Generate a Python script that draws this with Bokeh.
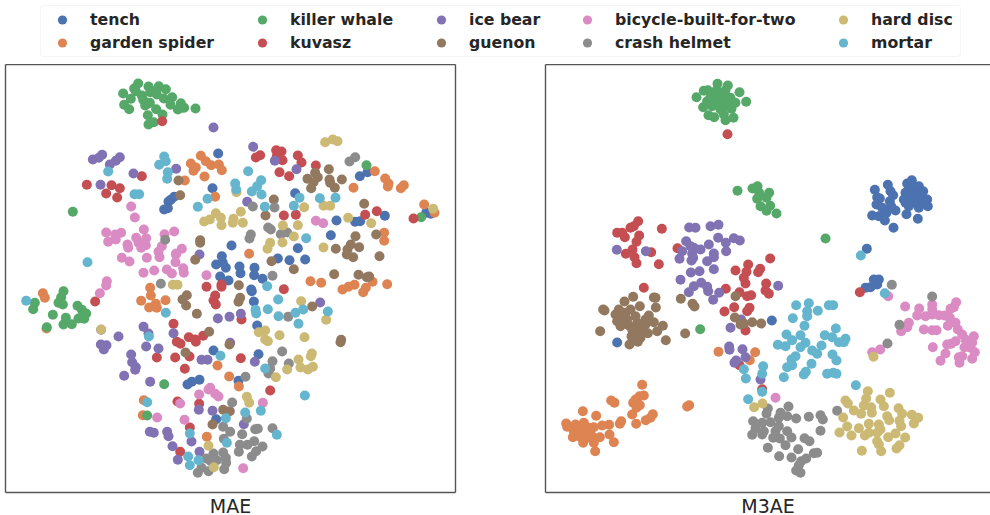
from bokeh.plotting import figure
from bokeh.models import Range1d, LinearAxis, FixedTicker, Legend, LegendItem, Title, BoxAnnotation
from bokeh.layouts import column, row
from bokeh.embed import file_html
from bokeh.resources import INLINE

class_names = ["tench", "garden spider", "killer whale", "kuvasz", "ice bear", "guenon",
               "bicycle-built-for-two", "crash helmet", "hard disc", "mortar"]
class_colors = ["#4C72B0", "#DD8452", "#55A868", "#C44E52", "#8172B3", "#937860",
                "#DA8BC3", "#8C8C8C", "#CCB974", "#64B5CD"]

# Values. "upper" values are on the scale of the upper half, "lower" ones
# are measured from the middle of the embedding (LOWER_SHIFT below).
LOWER_SHIFT = 765

mae_tench_upper = [(654,462),(637,566),(1079,530),(1102,518),(885,581),(522,592),(512,601),(505,606),(503,626),(492,630),(1009,663),(1065,667),(1080,665),(1154,649),(1278,640),(1292,643),(992,707),(694,738),(893,746)]
mae_tench_lower = [(665,5),(648,30),(668,25),(677,40),(718,36),(721,56),(763,40),(762,62),(660,66),(685,78),(787,73),(753,105),(755,110),(761,141),(833,12),(868,17),(915,15),(771,213),(640,288),(775,299),(598,376),(575,382),(562,390),(715,379),(648,494)]
mae_spider_upper = [(602,469),(617,485),(633,497),(656,495),(665,512),(572,492),(587,504),(580,514),(613,531),(554,543),(645,592),(1124,515),(1155,537),(1165,552),(1163,561),(1060,565),(1211,557),(1202,566),(1272,615),(1303,640),(747,763),(1152,700),(1152,724)]
mae_spider_lower = [(931,80),(963,85),(1027,105),(1045,97),(1063,91),(1097,100),(1089,113),(1117,82),(1161,89),(450,100),(452,123),(423,139),(496,137),(447,159),(467,148),(470,160),(128,116),(134,130),(139,222),(652,333),(687,366),(716,396),(431,437),(428,482),(620,547)]
mae_whale_upper = [(369,282),(402,267),(414,252),(445,261),(476,260),(497,269),(450,278),(470,285),(425,288),(392,298),(429,301),(491,297),(516,293),(449,310),(435,318),(372,316),(387,329),(511,316),(542,311),(468,329),(533,330),(552,325),(586,327),(443,347),(487,345),(461,368),(445,375),(407,275),(468,272),(440,314),(545,325),(218,637),(1099,497),(1263,653)]
mae_whale_lower = [(104,145),(99,164),(190,110),(183,128),(175,145),(188,150),(232,154),(245,166),(258,177),(252,193),(235,192),(158,181),(197,190),(190,210),(215,209),(140,218),(441,483),(492,389),(250,180)]
mae_kuvasz_upper = [(486,365),(828,452),(844,456),(830,470),(847,482),(780,467),(767,474),(893,468),(904,489),(947,498),(838,518),(867,530),(425,530),(260,556),(334,557),(359,566),(318,582),(351,594),(851,648),(887,646),(1095,646),(1130,635),(1240,657)]
mae_kuvasz_lower = [(285,141),(851,104),(619,97),(664,90),(664,97),(645,123),(640,138),(647,150),(520,208),(566,248),(585,255),(587,262),(609,244),(530,262),(541,268),(470,309),(525,309),(568,306),(554,343),(722,311),(724,195),(810,408),(532,441),(597,448),(569,519),(540,592)]
mae_bear_upper = [(640,384),(278,480),(296,475),(306,466),(329,495),(347,484),(359,473),(400,522),(301,556),(528,508),(759,442),(824,484),(889,509),(741,607)]
mae_bear_lower = [(598,0),(960,144),(722,178),(688,187),(653,192),(430,217),(303,226),(445,237),(520,236),(355,246),(302,270),(319,272),(311,285),(438,276),(475,282),(393,300),(396,323),(407,338),(405,346),(372,364),(450,382),(690,265),(604,316),(622,316),(764,322),(596,466),(637,469),(731,509),(449,532),(461,535),(501,532),(505,545),(574,561),(517,575),(598,592),(533,616)]
mae_guenon_upper = [(535,543),(540,587),(821,600),(796,648),(986,509),(945,520),(922,538),(953,533),(940,548),(933,566),(988,540),(990,550),(1004,565),(1025,540),(1092,613),(600,722),(600,730),(1128,705),(1066,710),(1052,735),(1042,750),(1077,743),(1007,748)]
mae_guenon_lower = [(585,16),(814,20),(881,44),(1002,59),(1075,61),(1100,68),(1107,66),(1059,8),(1040,0),(1138,5),(716,92),(560,122),(547,135),(558,153),(720,130),(715,142),(590,178),(936,156),(1023,256),(1021,263),(627,232),(688,270),(556,294),(669,466),(689,470),(637,510)]
mae_bicycle_upper = [(393,621),(404,654),(318,699),(345,705),(363,700),(347,720),(324,727),(431,690),(493,704),(522,696),(408,715),(438,716),(382,735),(384,745),(415,730),(437,737),(423,745),(485,740),(475,757),(545,748),(528,762),(947,664),(969,671)]
mae_bicycle_lower = [(365,10),(388,21),(440,10),(478,8),(527,0),(526,23),(430,55),(462,48),(500,45),(515,57),(549,41),(551,55),(619,62),(320,80),(318,93),(299,116),(630,400),(625,405),(645,418),(655,426),(597,420),(540,447),(788,445),(471,489),(553,496),(729,641)]
mae_helmet_upper = [(1065,473),(1048,486),(495,721),(758,621),(823,624),(804,684),(812,690),(842,704),(861,699),(752,705),(748,717)]
mae_helmet_lower = [(817,64),(482,88),(864,187),(846,291),(817,320),(866,327),(810,342),(805,357),(736,367),(696,444),(740,492),(669,517),(690,532),(765,524),(773,523),(817,521),(726,539),(671,553),(762,560),(719,571),(742,571),(787,576),(768,590),(716,592),(755,606),(618,612),(640,597),(669,594),(650,617),(677,610),(678,625),(604,640),(672,644),(593,655),(625,650),(632,620)]
mae_disc_upper = [(975,428),(998,420),(1012,425),(709,578),(970,619),(990,619),(912,623),(647,641),(722,637),(612,666),(629,660),(662,655),(664,677),(700,658),(698,670),(728,670),(848,678),(893,677),(1044,655),(1113,671),(1299,628),(881,711),(847,729),(810,730),(802,748),(970,744)]
mae_disc_lower = [(518,91),(532,91),(903,140),(978,196),(303,225),(776,233),(795,228),(838,242),(795,255),(803,260),(913,248),(935,297),(932,305),(895,315),(901,339),(923,345),(938,337),(861,345),(827,368),(740,427),(747,445),(625,574),(641,638)]
mae_mortar_upper = [(492,471),(497,485),(477,496),(324,516),(503,518),(501,538),(744,515),(705,552),(708,570),(783,542),(771,560),(755,576),(784,585),(622,598),(593,622),(403,584),(417,584),(898,595),(959,596),(1006,595),(794,622),(881,619),(918,716)]
mae_mortar_lower = [(262,23),(78,139),(801,95),(834,135),(766,166),(768,177),(803,164),(835,185),(886,175),(909,165),(983,171),(895,208),(497,175),(446,246),(661,304),(795,342),(914,423),(441,443),(782,469),(735,474),(677,491),(569,537),(830,541),(680,565),(564,606),(595,617),(569,632)]

m3ae_tench_upper = [(1144,542),(1130,552),(1072,556),(1033,571),(1165,560),(1178,575),(1080,575),(1088,587),(1040,593),(1048,597),(1125,580),(1140,570),(1155,575),(1120,600),(1135,590),(1150,590),(1165,590),(1190,600),(1192,620),(1078,605),(1038,615),(1055,625),(1082,620),(1095,633),(1125,610),(1145,610),(1165,625),(1172,610),(1068,640),(1025,648),(1045,650),(1063,663),(1128,644),(1162,658),(1089,685),(1009,748),(1150,605),(1135,620),(1130,575),(1150,560),(1175,590),(1180,610)]
m3ae_tench_lower = [(1030,75),(1045,75),(1040,90),(1005,100),(1020,98),(724,198),(260,264)]
m3ae_spider_upper = []
m3ae_spider_lower = [(335,391),(340,423),(327,425),(315,435),(308,445),(328,452),(318,460),(305,480),(242,438),(252,445),(476,452),(470,456),(157,470),(197,484),(367,479),(360,490),(346,497),(317,508),(272,500),(268,508),(107,507),(110,517),(135,510),(160,505),(236,511),(215,513),(190,518),(150,525),(130,530),(170,535),(127,548),(145,545),(165,550),(185,545),(208,548),(237,540),(158,565),(190,565),(250,563),(194,590),(150,540),(175,520),(564,292),(674,293),(658,317),(140,530),(160,535),(178,550)]
m3ae_whale_upper = [(561,253),(592,258),(627,278),(520,274),(532,272),(498,293),(647,307),(518,323),(534,347),(551,353),(585,362),(609,355),(558,272),(585,272),(552,295),(575,295),(600,295),(530,305),(545,310),(565,315),(590,318),(615,310),(603,328),(570,330),(545,320),(580,345),(575,305),(540,295),(560,285),(621,574),(666,567),(681,560),(686,580),(716,580),(680,598),(708,595),(690,620),(719,619),(708,634),(738,642),(885,717)]
m3ae_whale_lower = [(509,224)]
m3ae_kuvasz_upper = [(591,404),(323,665),(260,700),(275,700),(300,685),(310,680),(326,708),(283,713),(318,727),(394,688),(441,746),(306,750),(286,763),(362,758)]
m3ae_kuvasz_lower = [(312,8),(318,26),(385,29),(719,12),(340,100),(653,30),(615,48),(648,52),(689,43),(683,53),(640,70),(645,87),(707,87),(586,103),(705,108),(715,118),(627,113),(650,125),(662,122),(611,158),(582,171),(657,160),(650,170),(645,228),(627,332),(695,404),(988,113)]
m3ae_bear_upper = [(259,751),(346,755),(476,684),(495,685),(540,680),(564,676),(467,725),(480,740),(563,715),(610,716),(628,723),(586,730),(535,735),(490,745),(510,750),(455,755),(587,755),(550,762),(485,762)]
m3ae_bear_lower = [(447,13),(483,18),(530,20),(550,8),(481,54),(507,50),(550,44),(450,76),(512,85),(490,95),(530,97),(475,113),(533,110),(566,115),(548,136),(743,94),(600,220),(632,195),(596,276),(597,286),(636,284),(645,308),(617,318),(612,325),(690,375),(488,10)]
m3ae_guenon_upper = []
m3ae_guenon_lower = [(282,141),(308,127),(370,129),(375,130),(218,165),(222,168),(328,155),(376,159),(265,165),(255,180),(285,175),(300,165),(315,185),(355,183),(265,190),(290,195),(260,200),(270,215),(295,213),(320,205),(345,210),(370,203),(397,214),(380,230),(352,236),(330,225),(305,225),(209,230),(303,245),(330,250),(322,262),(297,270),(406,257),(464,237),(451,133),(486,148),(492,156),(615,125),(613,189),(640,207),(630,210),(665,203),(692,207),(275,175),(275,200),(335,215),(325,240),(345,195)]
m3ae_bicycle_upper = []
m3ae_bicycle_lower = [(1073,125),(1124,156),(1205,150),(1277,143),(1270,158),(1260,163),(1166,162),(1205,165),(1160,183),(1185,185),(1205,180),(1225,182),(1242,183),(1258,190),(1275,205),(1135,205),(1130,218),(1112,230),(1180,225),(1205,227),(1218,227),(1252,214),(1282,225),(1295,240),(1305,255),(1330,245),(1325,265),(1275,260),(1262,268),(1250,270),(1302,278),(1320,280),(1207,278),(1245,297),(1333,293),(1285,308),(1295,305),(1325,313),(1230,319),(1287,325),(1025,293),(1049,285),(735,430)]
m3ae_helmet_upper = []
m3ae_helmet_lower = [(1205,126),(1084,91),(1107,211),(1071,267),(774,456),(712,462),(708,478),(750,475),(745,490),(770,485),(797,492),(835,487),(870,482),(877,495),(920,469),(668,500),(695,505),(720,503),(675,522),(700,530),(745,515),(770,530),(870,529),(665,541),(695,540),(728,550),(748,552),(783,549),(822,551),(837,560),(765,572),(712,580),(803,584),(746,605),(783,609),(812,620),(827,612),(850,596),(860,595),(805,632),(797,648),(810,655),(735,530)]
m3ae_disc_upper = []
m3ae_disc_lower = [(1029,307),(1012,410),(1007,432),(1078,415),(945,438),(952,447),(1050,435),(1000,453),(1022,458),(970,468),(992,478),(1024,475),(1060,455),(1104,461),(1115,478),(1144,481),(1163,490),(1150,507),(696,447),(671,458),(938,489),(1070,485),(1076,497),(1107,499),(950,516),(985,521),(1015,508),(1045,510),(1112,515),(927,534),(963,543),(1003,543),(1015,535),(1050,525),(1040,535),(1095,537),(1073,548),(1124,549),(1040,560),(1045,570),(1107,572),(1098,582),(994,589),(1052,590)]
m3ae_mortar_upper = []
m3ae_mortar_lower = [(991,3),(1063,116),(797,152),(835,146),(895,152),(908,152),(862,169),(830,170),(830,185),(787,191),(822,214),(916,222),(768,240),(810,242),(883,242),(905,248),(945,253),(785,257),(825,265),(925,263),(940,263),(742,271),(765,275),(810,278),(873,273),(845,288),(860,298),(795,305),(906,300),(783,315),(918,318),(843,328),(785,332),(770,338),(698,335),(640,344),(695,358),(826,352),(820,360),(890,358),(908,355),(918,358),(760,368),(646,372),(695,412),(653,434),(976,392)]

mae_upper = [mae_tench_upper, mae_spider_upper, mae_whale_upper, mae_kuvasz_upper, mae_bear_upper, mae_guenon_upper, mae_bicycle_upper, mae_helmet_upper, mae_disc_upper, mae_mortar_upper]
mae_lower = [mae_tench_lower, mae_spider_lower, mae_whale_lower, mae_kuvasz_lower, mae_bear_lower, mae_guenon_lower, mae_bicycle_lower, mae_helmet_lower, mae_disc_lower, mae_mortar_lower]
m3ae_upper = [m3ae_tench_upper, m3ae_spider_upper, m3ae_whale_upper, m3ae_kuvasz_upper, m3ae_bear_upper, m3ae_guenon_upper, m3ae_bicycle_upper, m3ae_helmet_upper, m3ae_disc_upper, m3ae_mortar_upper]
m3ae_lower = [m3ae_tench_lower, m3ae_spider_lower, m3ae_whale_lower, m3ae_kuvasz_lower, m3ae_bear_lower, m3ae_guenon_lower, m3ae_bicycle_lower, m3ae_helmet_lower, m3ae_disc_lower, m3ae_mortar_lower]

FRAME = "#555555"
TEXT = "#262626"
FONT = "DejaVu Sans"


def panel(name, width, border_left, border_right, x_range, offset, uppers, lowers, right_edge):
    p = figure(width=width, height=451, frame_height=428, output_backend="svg", toolbar_location=None,
               x_range=Range1d(*x_range), y_range=Range1d(1479, 195),
               min_border_left=border_left, min_border_right=border_right,
               min_border_top=0, min_border_bottom=0,
               x_axis_type=None, y_axis_type=None, outline_line_color=None,
               background_fill_color="white", border_fill_color="white")
    p.grid.visible = False
    sides = ["left", "below", "above"] + (["right"] if right_edge else [])
    for side in sides:
        ax = LinearAxis(ticker=FixedTicker(ticks=[]), axis_line_color=FRAME, axis_line_width=1.4,
                        major_tick_line_color=None, minor_tick_line_color=None,
                        major_label_text_font_size="0px")
        p.add_layout(ax, side)
    for up, low, color in zip(uppers, lowers, class_colors):
        xs = [a for a, _ in up] + [a for a, _ in low]
        ys = [b for _, b in up] + [b + LOWER_SHIFT for _, b in low]
        p.scatter(xs, ys, size=10, fill_color=color, line_color=None)
    p.add_layout(Title(text=name, align="center", text_font=FONT, text_font_size="19px",
                       text_font_style="normal", text_color=TEXT, standoff=0, offset=offset,
                       text_line_height=0.9), "below")
    return p


fig_a = panel("MAE", 540, 5, 85, (16, 1366), 0, mae_upper, mae_lower, True)
fig_b = panel("M3AE", 450, 5, 0, (45, 1380), 2.5, m3ae_upper, m3ae_lower, False)

head = figure(width=990, height=64, output_backend="svg", toolbar_location=None,
              x_range=Range1d(0, 990), y_range=Range1d(64, 0), x_axis_type=None, y_axis_type=None,
              outline_line_color=None, min_border=0)
head.grid.visible = False
head.add_layout(BoxAnnotation(left=40, right=960, top=5, bottom=56, fill_color="white", fill_alpha=1,
                              line_color="#dddddd", line_width=1, border_radius=3))
legend_left = [43, 243, 422, 568, 824]
for col, left in enumerate(legend_left):
    items = []
    for k in (2 * col, 2 * col + 1):
        r = head.scatter([float("nan")], [float("nan")], size=9, fill_color=class_colors[k], line_color=None)
        items.append(LegendItem(label=class_names[k], renderers=[r], index=0))
    head.add_layout(Legend(items=items, location=(left, 10), margin=0, padding=3, spacing=0,
                           glyph_width=38, glyph_height=23, label_standoff=9, label_height=23,
                           label_text_font=FONT, label_text_font_size="15.75px",
                           label_text_font_style="bold", label_text_color=TEXT,
                           border_line_color=None, background_fill_alpha=0), "center")

page = column(head, row(fig_a, fig_b, spacing=0), spacing=0,
              styles={"position": "absolute", "left": "0px", "top": "0px"})
open("out.html", "w").write(file_html(page, INLINE))
